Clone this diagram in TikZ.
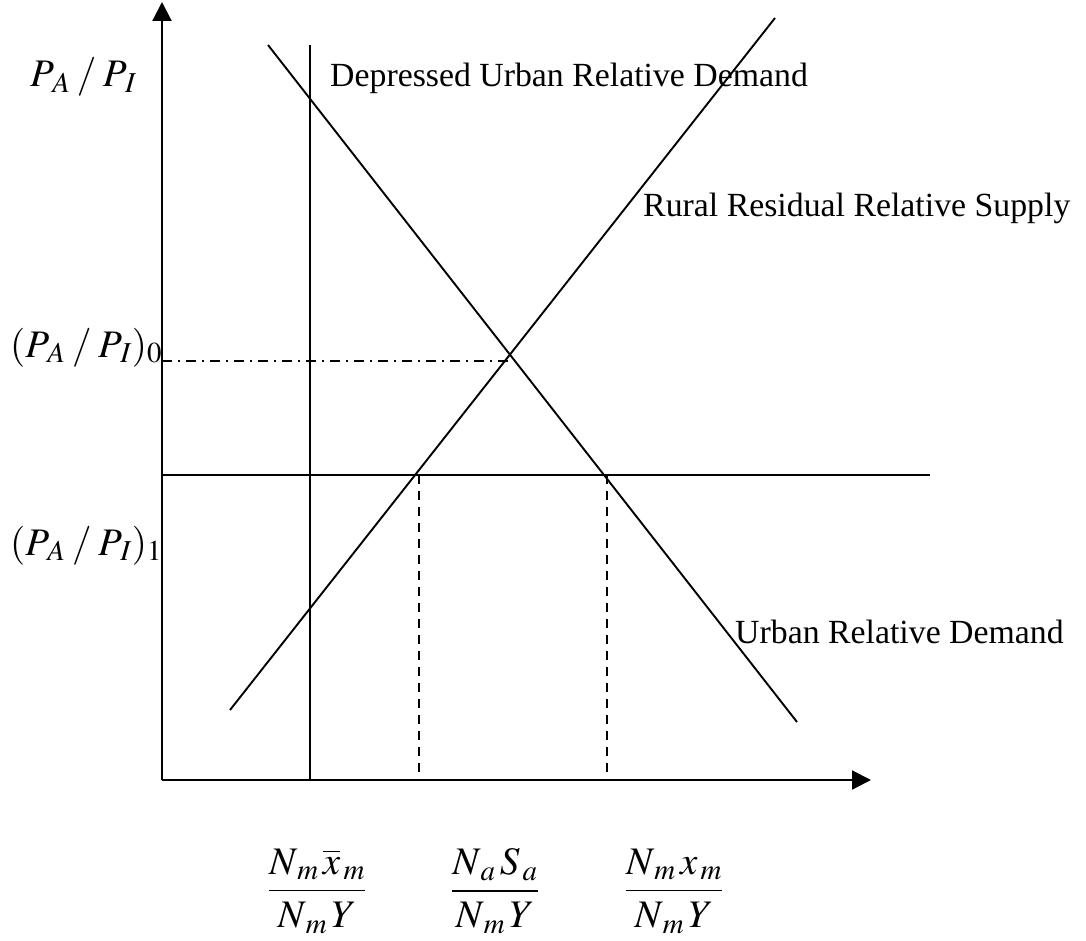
\documentclass[tikz,border=0pt]{standalone}
\usepackage{amsmath}
\usepackage{mathptmx}
\usepackage[no-math]{fontspec}
\setmainfont{Liberation Serif}
\usetikzlibrary{arrows.meta}
\tikzset{
  ln/.style={line width=1.9pt},
  ax/.style={line width=2.2pt,-{Triangle[length=19pt,width=19pt]}},
  lbl/.style={inner sep=0pt,font=\fontsize{33.8}{36}\selectfont},
  mlbl/.style={inner sep=0pt,font=\fontsize{39}{44}\selectfont},
  dsh/.style={line width=1.6pt,dash pattern=on 9pt off 7pt},
  dashdot/.style={line width=1.6pt,dash pattern=on 10pt off 6pt on 2pt off 6pt},
}
\newcommand{\myslash}{\mskip 3mu/\mskip 3mu}
\newcommand{\mysub}[2]{#1_{\mskip 2mu #2}}
\begin{document}
\begin{tikzpicture}[x=1pt,y=-1pt]
\useasboundingbox (0,0) rectangle (1086,941);
\coordinate (O) at (162,780);
\coordinate (ytop) at (162,2);
\coordinate (xend) at (871,780);
\draw[ax] (O) -- (ytop);
\draw[ax] (O) -- (xend);
\coordinate (v1) at (310,45);
\coordinate (v0) at (310,780);
\draw[ln] (v1) -- (v0);
\coordinate (d1) at (268,45);
\coordinate (d2) at (797,722);
\draw[ln] (d1) -- (d2);
\coordinate (s1) at (230,710);
\coordinate (s2) at (775,18);
\draw[ln] (s1) -- (s2);
\coordinate (E) at (515,361);
\coordinate (E0) at (162,361);
\draw[dashdot] (E0) -- (E);
\coordinate (h0) at (162,475);
\coordinate (h1) at (930,475);
\draw[ln] (h0) -- (h1);
\coordinate (a1) at (419,475);
\coordinate (a0) at (419,780);
\coordinate (b1) at (607,475);
\coordinate (b0) at (607,780);
\draw[dsh] (a1) -- (a0);
\draw[dsh] (b1) -- (b0);
\node[mlbl,anchor=base west] (py) at (30,87) {$\mysub{P}{A}\myslash \mysub{P}{I}$};
\node[mlbl,anchor=base west] (p0) at (10,357) {$(\mysub{P}{A}\myslash \mysub{P}{I})_0$};
\node[mlbl,anchor=base west] (p1) at (10,555) {$(\mysub{P}{A}\myslash \mysub{P}{I})_1$};
\node[lbl,anchor=base west] (t1) at (330,87) {Depressed Urban Relative Demand};
\node[lbl,anchor=base west] (t2) at (643,217) {Rural Residual Relative Supply};
\node[lbl,anchor=base west] (t3) at (735,643) {Urban Relative Demand};
\node[mlbl] (f1) at (317,891) {$\dfrac{\mysub{N}{m}\,\mysub{\overline{x}}{m}}{\mysub{N}{m}\,Y}$};
\node[mlbl] (f2) at (495,891) {$\dfrac{\mysub{N}{a}\,\mysub{S}{a}}{\mysub{N}{m}\,Y}$};
\node[mlbl] (f3) at (674,891) {$\dfrac{\mysub{N}{m}\,\mysub{x}{m}}{\mysub{N}{m}\,Y}$};
\end{tikzpicture}
\end{document}
